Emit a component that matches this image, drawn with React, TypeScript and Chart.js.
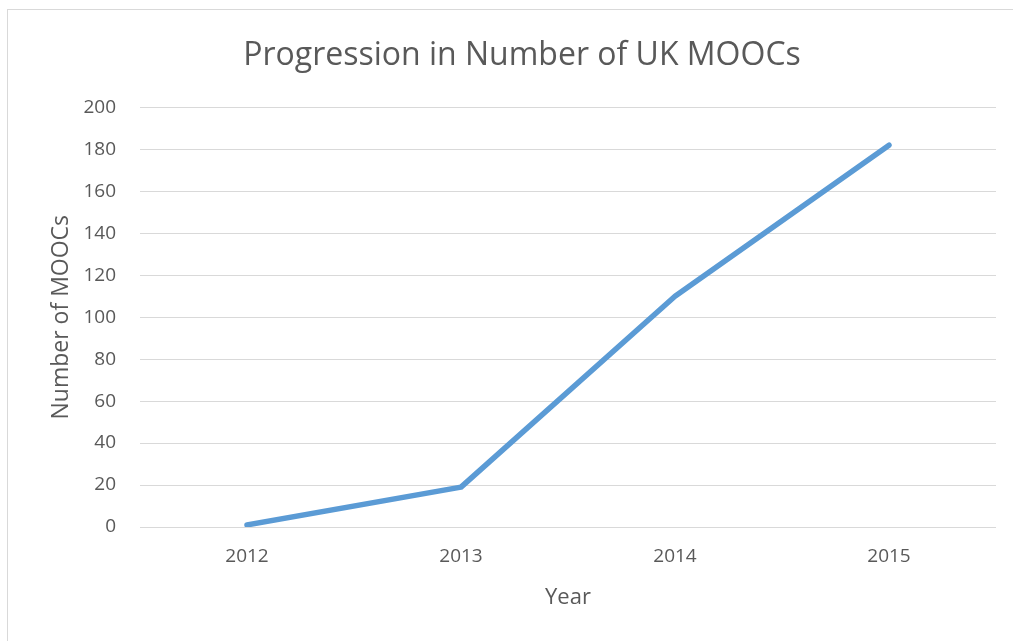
import React, { useEffect, useRef } from "react";
import { Chart, registerables } from "chart.js";

Chart.register(...registerables);

const years = ["2012", "2013", "2014", "2015"];
const moocCounts = [1, 19, 110, 182];
const chartTitle = "Progression in Number of UK MOOCs";
const xTitle = "Year";
const yTitle = "Number of MOOCs";

const FONT = "'Open Sans', 'Liberation Sans', sans-serif";
const TEXT = "#595959";

export default function App() {
  const ref = useRef<HTMLCanvasElement>(null);
  useEffect(() => {
    const ctx = ref.current!;
    const chart = new Chart(ctx, {
      type: "line",
      data: {
        labels: years,
        datasets: [
          {
            data: moocCounts,
            borderColor: "#5B9BD5",
            borderWidth: 5.5,
            pointRadius: 0,
            borderCapStyle: "round",
            borderJoinStyle: "round",
            tension: 0,
            fill: false,
          },
        ],
      },
      options: {
        animation: false,
        responsive: false,
        devicePixelRatio: 1,
        layout: { padding: { left: 48, right: 17, top: 0, bottom: 30 } },
        plugins: {
          legend: { display: false },
          tooltip: { enabled: false },
          title: {
            display: true,
            text: chartTitle,
            color: TEXT,
            font: { family: FONT, size: 32, weight: "normal" },
            padding: { top: 37, bottom: 32 },
          },
        },
        scales: {
          x: {
            offset: true,
            grid: { display: false, drawTicks: false },
            border: { display: false },
            ticks: {
              color: TEXT,
              font: { family: FONT, size: 19 },
              padding: 18,
            },
            title: {
              display: true,
              text: xTitle,
              color: TEXT,
              font: { family: FONT, size: 22 },
              padding: { top: 10, bottom: 0 },
            },
            afterFit: (s: any) => {
              s.height = 641 - 30 - 527;
            },
          },
          y: {
            min: 0,
            max: 200,
            grid: { color: "#d9d9d9", lineWidth: 1, drawTicks: false },
            border: { display: false },
            ticks: {
              stepSize: 20,
              color: TEXT,
              font: { family: FONT, size: 19 },
              padding: 24,
            },
            title: {
              display: true,
              text: yTitle,
              color: TEXT,
              font: { family: FONT, size: 23 },
              padding: { top: 0, bottom: 0 },
            },
            afterFit: (s: any) => {
              s.width = 92;
            },
          },
        },
      },
    });
    return () => chart.destroy();
  }, []);
  return (
    <div
      style={{
        position: "absolute",
        left: 0,
        top: 0,
        width: 1013,
        height: 641,
        background: "#fff",
        overflow: "hidden",
      }}
    >
      <div
        style={{
          position: "absolute",
          left: 7,
          top: 9,
          width: 1020,
          height: 660,
          border: "1px solid #d9d9d9",
          boxSizing: "border-box",
        }}
      />
      <canvas
        ref={ref}
        width={1013}
        height={641}
        style={{ position: "absolute", left: 0, top: 0 }}
      />
    </div>
  );
}
